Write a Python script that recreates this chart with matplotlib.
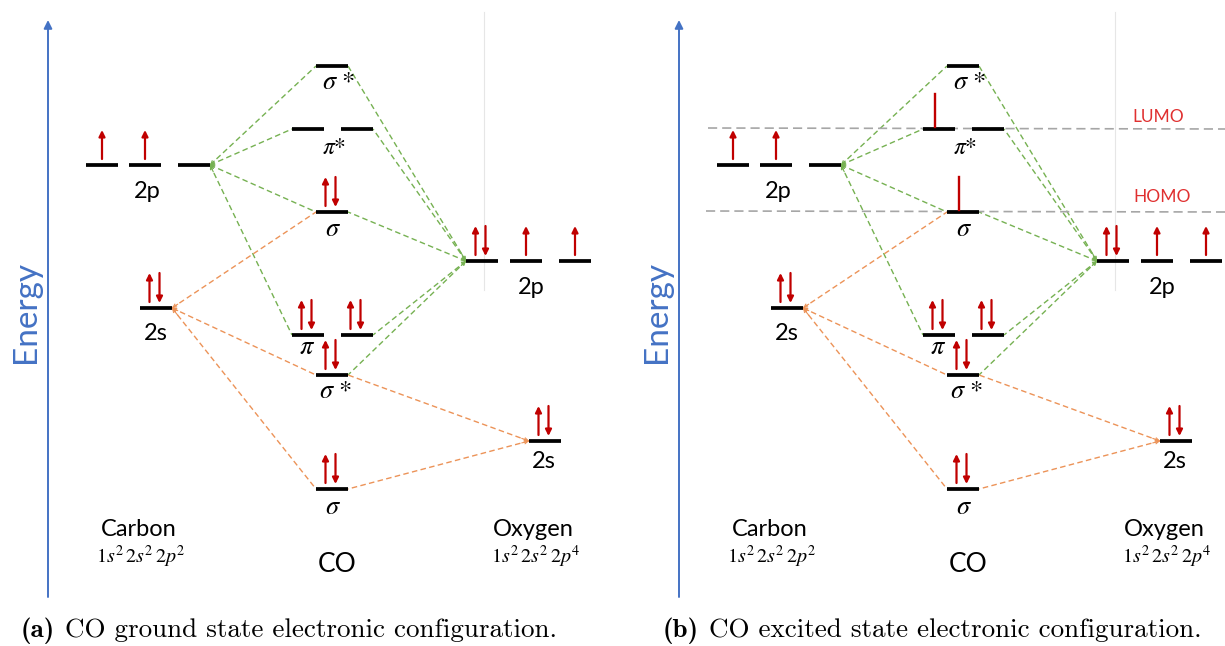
import matplotlib.pyplot as plt

plt.rcParams['mathtext.fontset'] = 'stix'

# orbitals: name, energy (arbitrary units, up), x of each degenerate level
orb_names = ['C2p', 'C2s', 'O2p', 'O2s',
             'sig_star_p', 'pi_star', 'sig_p', 'pi', 'sig_star_s', 'sig_s']
orb_energy = [481, 338, 385, 205, 580, 517, 434, 311, 271, 157]
orb_x = [[102, 145, 194], [156], [482, 526, 575], [545],
         [332], [308, 357], [332], [308, 357], [332], [332]]
orb_labels = ['2p', '2s', '2p', '2s',
              r'$\sigma$ *', r'$\pi$*', r'$\sigma$', r'$\pi$', r'$\sigma$ *', r'$\sigma$']

# electrons per level: 'u' up, 'ud' pair, 'l' bare line (excited), '' empty
ground = [['u', 'u', ''], ['ud'], ['ud', 'u', 'u'], ['ud'],
          [''], ['', ''], ['ud'], ['ud', 'ud'], ['ud'], ['ud']]
excited = [['u', 'u', ''], ['ud'], ['ud', 'u', 'u'], ['ud'],
           [''], ['l', ''], ['l'], ['ud', 'ud'], ['ud'], ['ud']]

# correlation lines: (atomic orbital, level, side) -> (MO, level, side)
green_links = [(('C2p', 2, 'R'), ('sig_star_p', 0, 'L')),
               (('C2p', 2, 'R'), ('pi_star', 0, 'L')),
               (('C2p', 2, 'R'), ('sig_p', 0, 'L')),
               (('C2p', 2, 'R'), ('pi', 0, 'L')),
               (('O2p', 0, 'L'), ('sig_star_p', 0, 'R')),
               (('O2p', 0, 'L'), ('pi_star', 1, 'R')),
               (('O2p', 0, 'L'), ('sig_p', 0, 'R')),
               (('O2p', 0, 'L'), ('pi', 1, 'R')),
               (('O2p', 0, 'L'), ('sig_star_s', 0, 'R'))]
orange_links = [(('C2s', 0, 'R'), ('sig_p', 0, 'L')),
                (('C2s', 0, 'R'), ('sig_star_s', 0, 'L')),
                (('C2s', 0, 'R'), ('sig_s', 0, 'L')),
                (('O2s', 0, 'L'), ('sig_star_s', 0, 'R')),
                (('O2s', 0, 'L'), ('sig_s', 0, 'R'))]

captions = ['CO ground state electronic configuration.',
            'CO excited state electronic configuration.']
caption_tags = ['(a)', '(b)']

RED = '#C00000'
BLUE = '#4472C4'
HALF = 16

W, H = 1225, 646
fig = plt.figure(figsize=(W / 100, H / 100), dpi=100)


def end_point(ref):
    name, k, side = ref
    i = orb_names.index(name)
    x = orb_x[i][k] + (HALF if side == 'R' else -HALF)
    return x, orb_energy[i]


def draw_panel(ax, electrons, excited_state):
    ax.set_xlim(0, ax.get_position().width * W)
    ax.set_ylim(0, H)
    ax.axis('off')

    # energy axis
    ax.annotate('', xy=(48, 626), xytext=(48, 49),
                arrowprops=dict(arrowstyle='-|>', color=BLUE, lw=1.4,
                                mutation_scale=12, shrinkA=0, shrinkB=0))
    ax.text(26, 334, 'Energy', rotation=90, color=BLUE, fontsize=24,
            family='Lato', ha='center', va='center')
    ax.plot([484, 484], [356, 634], color='#e6e6e6', lw=0.8, zorder=0)

    # dashed correlation lines
    for links, col in [(green_links, '#76b152'), (orange_links, '#ec9358')]:
        for a, m in links:
            xa, ya = end_point(a)
            xm, ym = end_point(m)
            ax.plot([xa, xm], [ya, ym], color=col, lw=1.0,
                    dashes=(4, 2.4), zorder=1)
            ax.annotate('', xy=(xa, ya),
                        xytext=(xa + (xm - xa) * 0.04, ya + (ym - ya) * 0.04),
                        arrowprops=dict(arrowstyle='->', color=col, lw=0.8,
                                        mutation_scale=6, shrinkA=0, shrinkB=0))

    # levels and electrons
    for i, name in enumerate(orb_names):
        e = orb_energy[i]
        for k, x in enumerate(orb_x[i]):
            ax.plot([x - HALF, x + HALF], [e, e], color='black', lw=2.7,
                    solid_capstyle='butt', zorder=3)
            code = electrons[i][k]
            arrows = []
            if code == 'u':
                arrows = [(x, e + 6, e + 35)]
            elif code == 'ud':
                arrows = [(x - 6.5, e + 6, e + 35), (x + 3.5, e + 35, e + 5)]
            for ax_x, y0, y1 in arrows:
                ax.annotate('', xy=(ax_x, y1), xytext=(ax_x, y0),
                            arrowprops=dict(arrowstyle='-|>', color=RED, lw=1.6,
                                            mutation_scale=9, shrinkA=0, shrinkB=0),
                            zorder=4)
            if code == 'l':
                ax.plot([x - 4, x - 4], [e + 2, e + 35], color=RED, lw=1.7, zorder=4)

    # orbital labels
    label_pos = {'C2p': (147, -27), 'C2s': (156, -25), 'O2p': (531, -27),
                 'O2s': (544, -21), 'sig_star_p': (339, -17), 'pi_star': (334, -19),
                 'sig_p': (333, -18), 'pi': (307, -13), 'sig_star_s': (336, -17),
                 'sig_s': (333, -19)}
    for i, name in enumerate(orb_names):
        lx, dy = label_pos[name]
        if name[0] in 'CO':
            ax.text(lx, orb_energy[i] + dy, orb_labels[i], fontsize=17,
                    family='Lato', ha='center', va='center')
        else:
            size = 17 if name == 'pi_star' else 19
            ax.text(lx, orb_energy[i] + dy, orb_labels[i], fontsize=size,
                    family='STIXGeneral', ha='center', va='center')

    ax.text(139, 117, 'Carbon', fontsize=17, family='Lato', ha='center', va='center')
    ax.text(141, 89, r'$1s^2\,2s^2\,2p^2$', fontsize=14.5, ha='center', va='center')
    ax.text(533, 117, 'Oxygen', fontsize=17, family='Lato', ha='center', va='center')
    ax.text(536, 89, r'$1s^2\,2s^2\,2p^4$', fontsize=14.5, ha='center', va='center')
    ax.text(337, 81, 'CO', fontsize=19, family='Lato', ha='center', va='center')

    if excited_state:
        lumo = orb_energy[orb_names.index('pi_star')]
        homo = orb_energy[orb_names.index('sig_p')]
        xmax = ax.get_xlim()[1]
        ax.plot([77, xmax], [lumo + 1, lumo], color='#a6a6a6', lw=1.2,
                dashes=(5.5, 3), zorder=2)
        ax.plot([75, xmax], [homo + 1, homo], color='#a6a6a6', lw=1.2,
                dashes=(5.5, 3), zorder=2)
        ax.text(527, lumo + 12, 'LUMO', color='#e03030', fontsize=12.5,
                family='Lato', ha='center', va='center')
        ax.text(531, homo + 15, 'HOMO', color='#e03030', fontsize=12.5,
                family='Lato', ha='center', va='center')


ax_a = fig.add_axes([0, 0, 612 / W, 1])
ax_b = fig.add_axes([631 / W, 0, 594 / W, 1])
draw_panel(ax_a, ground, False)
draw_panel(ax_b, excited, True)

# captions
fig.canvas.draw()
for tag, cap, x0 in zip(caption_tags, captions, [21, 663]):
    t = fig.text(x0 / W, 9 / H, tag, family='cmb10', fontsize=19.5, va='baseline')
    bb = t.get_window_extent(fig.canvas.get_renderer())
    fig.text((bb.x1 + 10) / W, 9 / H, cap, family='cmr10', fontsize=19.5,
             va='baseline')

fig.savefig('out.png', dpi=100)
